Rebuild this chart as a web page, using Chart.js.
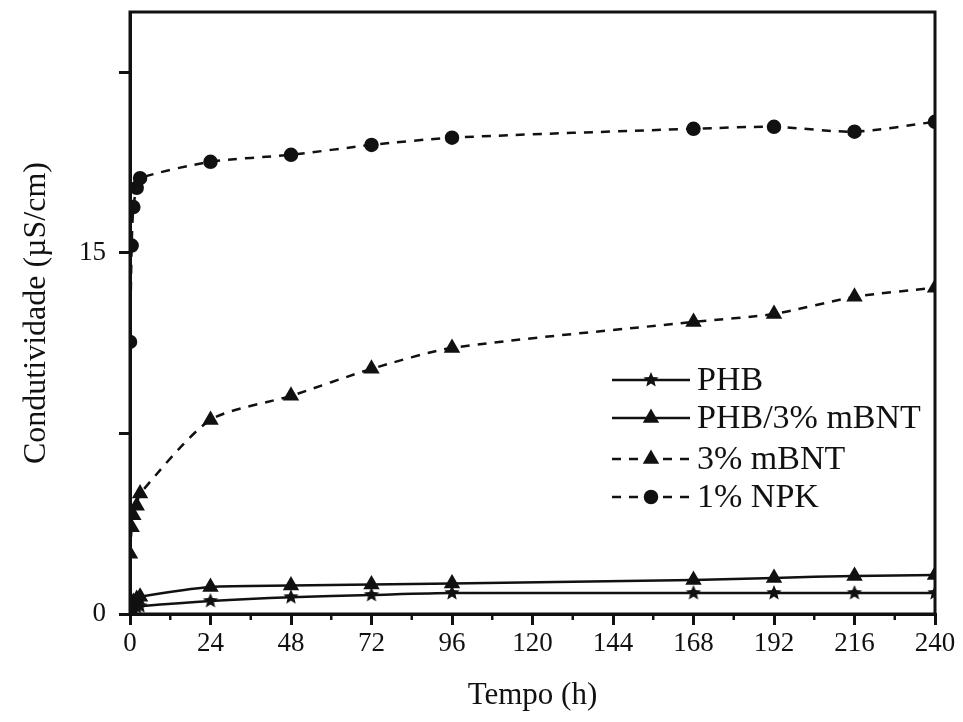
<!DOCTYPE html>
<html>
<head>
<meta charset="utf-8">
<script src="https://cdn.jsdelivr.net/npm/chart.js@4"></script>
<style>
  html, body { margin: 0; padding: 0; background: #fff; }
  #wrap { width: 963px; height: 722px; }
</style>
</head>
<body>
<div id="wrap"><canvas id="condChart" width="963" height="722"></canvas></div>
<script>
// time points (h)
const tempo = [0, 0.5, 1, 2, 3, 24, 48, 72, 96, 168, 192, 216, 240];

const phb      = [0.1, 0.18, 0.24, 0.28, 0.32, 0.54, 0.70, 0.79, 0.87, 0.87, 0.87, 0.87, 0.87];
const phbMbnt  = [0.15, 0.35, 0.5, 0.62, 0.72, 1.12, 1.18, 1.22, 1.27, 1.41, 1.5, 1.58, 1.62];
const mbnt     = [2.5, 3.6, 4.1, 4.5, 5.0, 8.06, 9.06, 10.18, 11.05, 12.13, 12.46, 13.17, 13.55];
const npk      = [11.3, 15.3, 16.9, 17.7, 18.1, 18.78, 19.07, 19.48, 19.78, 20.15, 20.23, 20.03, 20.44];

const xTicks = [0, 24, 48, 72, 96, 120, 144, 168, 192, 216, 240];
const yTicks = [0, 7.5, 15, 22.5];
const yLabels = ['0', '', '15', ''];

const serif = '"Liberation Serif", "DejaVu Serif", serif';

// filled star used as point style
function makeStar(r) {
    const c = document.createElement('canvas');
    c.width = c.height = r * 2 + 2;
    const g = c.getContext('2d');
    g.fillStyle = '#111';
    g.beginPath();
    for (let i = 0; i < 10; i++) {
        const rad = i % 2 === 0 ? r : r * 0.45;
        const a = -Math.PI / 2 + i * Math.PI / 5;
        const px = r + 1 + rad * Math.cos(a), py = r + 1 + rad * Math.sin(a);
        if (i === 0) g.moveTo(px, py); else g.lineTo(px, py);
    }
    g.closePath();
    g.fill();
    return c;
}
const star = makeStar(8);

const toXY = arr => arr.map((v, i) => ({ x: tempo[i], y: v }));

const series = [
    { label: 'PHB', data: toXY(phb), pointStyle: star, dash: [], radius: 8 },
    { label: 'PHB/3% mBNT', data: toXY(phbMbnt), pointStyle: 'triangle', dash: [], radius: 7 },
    { label: '3% mBNT', data: toXY(mbnt), pointStyle: 'triangle', dash: [9, 8], radius: 7 },
    { label: '1% NPK', data: toXY(npk), pointStyle: 'circle', dash: [9, 8], radius: 6 }
];

// frame, minor ticks and the in-plot legend
const extras = {
    id: 'extras',
    afterDraw(chart) {
        const ctx = chart.ctx;
        const a = chart.chartArea;
        const xs = chart.scales.x;
        ctx.save();
        ctx.strokeStyle = '#111';
        ctx.lineWidth = 3;
        ctx.strokeRect(a.left, a.top, a.right - a.left, a.bottom - a.top);
        // minor x ticks
        ctx.lineWidth = 2.5;
        for (let v = 12; v < 240; v += 24) {
            const px = xs.getPixelForValue(v);
            ctx.beginPath();
            ctx.moveTo(px, a.bottom);
            ctx.lineTo(px, a.bottom + 6);
            ctx.stroke();
        }
        // legend
        const lx0 = 612, lx1 = 690;
        const rows = [380, 418, 459, 497];
        ctx.font = '34px ' + serif;
        ctx.textBaseline = 'middle';
        ctx.fillStyle = '#111';
        chart.data.datasets.forEach((ds, i) => {
            const y = rows[i];
            ctx.setLineDash(ds.borderDash);
            ctx.lineWidth = 2.5;
            ctx.beginPath();
            ctx.moveTo(lx0, y);
            ctx.lineTo(lx1, y);
            ctx.stroke();
            ctx.setLineDash([]);
            Chart.helpers.drawPoint(ctx, {
                pointStyle: ds.pointStyle, radius: ds.pointRadius, rotation: 0, borderWidth: 1
            }, (lx0 + lx1) / 2, y);
            ctx.fillText(ds.label, 697, y + 1);
        });
        ctx.restore();
    }
};

const ctx = document.getElementById('condChart').getContext('2d');
new Chart(ctx, {
    type: 'line',
    data: {
        datasets: series.map(s => ({
            label: s.label,
            data: s.data,
            borderColor: '#111',
            backgroundColor: '#111',
            borderWidth: 2.5,
            borderDash: s.dash,
            pointStyle: s.pointStyle,
            pointRadius: s.radius,
            pointBackgroundColor: '#111',
            pointBorderColor: '#111',
            tension: 0.25,
            fill: false
        }))
    },
    options: {
        responsive: false,
        animation: false,
        layout: { padding: { top: 12, right: 28, left: 0, bottom: 0 } },
        plugins: {
            legend: { display: false },
            tooltip: { enabled: false }
        },
        scales: {
            x: {
                type: 'linear',
                min: 0, max: 240,
                afterBuildTicks: s => { s.ticks = xTicks.map(v => ({ value: v })); },
                afterFit: s => { s.height = 108; s.paddingLeft = 0; s.paddingRight = 0; },
                grid: { drawOnChartArea: false, color: '#111', lineWidth: 3, tickLength: 11, tickWidth: 3 },
                border: { color: '#111', width: 3 },
                ticks: { color: '#111', font: { family: serif, size: 27 }, padding: 3, maxRotation: 0 },
                title: { display: true, text: 'Tempo (h)', color: '#111', font: { family: serif, size: 31 }, padding: { top: 0, bottom: 8 } }
            },
            y: {
                min: 0, max: 25,
                afterBuildTicks: s => { s.ticks = yTicks.map(v => ({ value: v })); },
                afterFit: s => { s.width = 130; s.paddingTop = 0; s.paddingBottom = 0; },
                grid: { drawOnChartArea: false, color: '#111', lineWidth: 3, tickLength: 11, tickWidth: 3 },
                border: { color: '#111', width: 3 },
                ticks: {
                    color: '#111', font: { family: serif, size: 27 }, padding: 13,
                    callback: (v, i) => yLabels[i]
                },
                title: { display: true, text: 'Condutividade (µS/cm)', color: '#111', font: { family: serif, size: 32 }, padding: { top: 17, bottom: 0 } }
            }
        }
    },
    plugins: [extras]
});
</script>
</body>
</html>
